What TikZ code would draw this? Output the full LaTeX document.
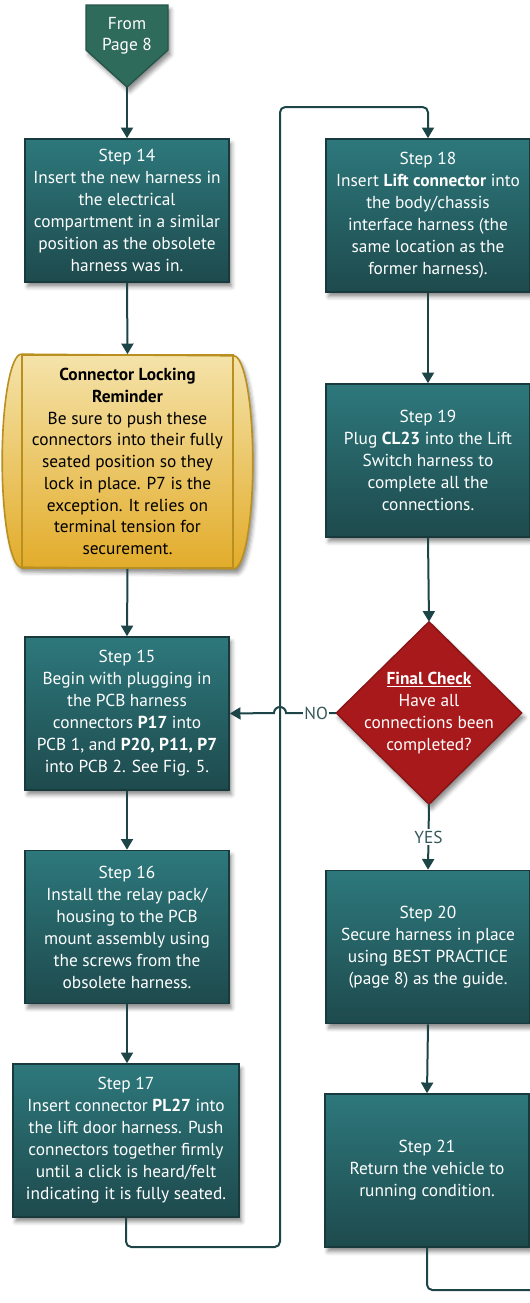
\documentclass[tikz,border=0pt]{standalone}
\usepackage{fontspec}
\setmainfont{PT Sans}
\usepackage{tikz}
\usetikzlibrary{arrows.meta,shadows.blur}
\definecolor{tealtop}{HTML}{2D787C}
\definecolor{tealbot}{HTML}{1E4A4D}
\definecolor{tealedge}{HTML}{193A3C}
\definecolor{linecol}{HTML}{1D4547}
\definecolor{goldtop}{HTML}{F5E3AA}
\definecolor{goldbot}{HTML}{E2AC2A}
\definecolor{goldedge}{HTML}{B98F1F}
\definecolor{checkred}{HTML}{A8191B}
\definecolor{checkedge}{HTML}{861315}
\definecolor{fromgreen}{HTML}{2F6B5A}
\definecolor{fromedge}{HTML}{24544A}
\definecolor{labelcol}{HTML}{35595B}
\pgfdeclarelayer{background}
\pgfsetlayers{background,main}
\tikzstyle{shade} = [blur shadow={shadow xshift=2pt, shadow yshift=-3.5pt, shadow blur radius=3pt, shadow opacity=45}]
\tikzstyle{block} = [rectangle, draw=tealedge, line width=1.2pt, top color=tealtop, bottom color=tealbot, text=white, align=center, minimum width=153pt, minimum height=114.75pt, inner sep=0pt, font=\fontsize{13}{16.5}\selectfont, shade]
\tikzstyle{reminder} = [rectangle, draw=goldedge, line width=1.2pt, text=black, align=center, minimum width=158.25pt, minimum height=159.75pt, inner sep=0pt, font=\fontsize{13}{16.3}\selectfont]
\tikzstyle{scroll} = [draw=goldedge, line width=1.2pt, top color=goldtop, bottom color=goldbot, shade]
\tikzstyle{check} = [rectangle, text=white, align=center, minimum width=138.75pt, minimum height=136.5pt, inner sep=0pt, font=\fontsize{13}{16.5}\selectfont]
\tikzstyle{from} = [text=white, align=center, inner sep=0pt, font=\fontsize{13}{15.75}\selectfont]
\tikzstyle{line} = [draw=linecol, line width=1.5pt, -{Triangle[length=8pt,width=9pt]}]
\tikzstyle{plain} = [draw=linecol, line width=1.5pt]
\tikzstyle{answer} = [fill=white, text=labelcol, inner sep=1pt, font=\fontsize{13}{15}\selectfont]

\begin{document}
\begin{tikzpicture}[x=0.75pt, y=-0.75pt]
    \useasboundingbox (0,0) rectangle (529,1303);

    % Nodes
    \coordinate (from_tip) at (127,87);
    \node [from] (from_page) at (127,36) {From\\Page 8};
    \node [block, minimum height=107.25pt] (step_14) at (127,210.5) {Step 14\\Insert the new harness in\\the electrical\\compartment in a similar\\position as the obsolete\\harness was in.};
    \node [reminder] (locking) at (127.5,461.5) {\textbf{Connector Locking}\\\textbf{Reminder}\\Be sure to push these\\connectors into their fully\\seated position so they\\lock in place. P7 is the\\exception. It relies on\\terminal tension for\\securement.};
    \node [block] (step_15) at (127,713.5) {Step 15\\Begin with plugging in\\the PCB harness\\connectors \textbf{P17} into\\PCB 1, and \textbf{P20, P11, P7}\\into PCB 2. See Fig. 5.};
    \node [block] (step_16) at (127,927) {Step 16\\Install the relay pack/\\housing to the PCB\\mount assembly using\\the screws from the\\obsolete harness.};
    \node [block, minimum width=169.5pt] (step_17) at (126,1140.5) {Step 17\\Insert connector \textbf{PL27} into\\the lift door harness. Push\\connectors together firmly\\until a click is heard/felt\\indicating it is fully seated.};
    \node [block] (step_18) at (428,215.5) {Step 18\\Insert \textbf{Lift connector} into\\the body/chassis\\interface harness (the\\same location as the\\former harness).};
    \node [block] (step_19) at (428,460.5) {Step 19\\Plug \textbf{CL23} into the Lift\\Switch harness to\\complete all the\\connections.};
    \node [check] (final_check) at (429,713) {\underline{\textbf{Final Check}}\\Have all\\connections been\\completed?};
    \node [block] (step_20) at (428,947) {Step 20\\Secure harness in place\\using BEST PRACTICE\\(page 8) as the guide.};
    \node [block] (step_21) at (427,1170.5) {Step 21\\Return the vehicle to\\running condition.};

    % shapes behind the text
    \begin{pgfonlayer}{background}
    \path [draw=fromedge, line width=1pt, fill=fromgreen, shade] (86,5) -- (168,5) -- (168,50) -- (from_tip) -- (86,50) -- cycle;
    \path [scroll] (locking.north west) arc[start angle=90, end angle=270, x radius=14.25pt, y radius=79.875pt] -- (locking.south east) arc[start angle=-90, end angle=90, x radius=14.25pt, y radius=79.875pt] -- cycle;
    \path [draw=checkedge, line width=1pt, fill=checkred, shade] (final_check.north) -- (final_check.east) -- (final_check.south) -- (final_check.west) -- cycle;
    \end{pgfonlayer}

    % free ends of the long lines
    \coordinate (loop_bottom) at (280,1247);
    \coordinate (loop_top) at (280,107);
    \coordinate (hop_right) at (286,713);
    \coordinate (exit_right) at (545,1290);

    % arrows
    \path [line] (from_tip) -- (step_14.north);
    \path [line] (step_14.south) -- (locking.north);
    \path [line] (locking.south) -- (step_15.north);
    \path [line] (step_15.south) -- (step_16.north);
    \path [line] (step_16.south) -- (step_16.south |- step_17.north);
    \path [line, rounded corners=4pt] (step_17.south) |- (loop_bottom) -- (loop_top) -| (step_18.north);
    \path [line] (step_18.south) -- (step_19.north);
    \path [line] (step_19.south) -- (final_check.north);
    \path [line] (final_check.west) -- node[answer, pos=0.4] {NO} (hop_right) arc[start angle=0, end angle=180, radius=4.5pt] -- (step_15.east);
    \path [line] (final_check.south) -- node[answer] {YES} (step_20.north);
    \path [line] (step_20.south) -- (step_21.north);
    \path [plain, rounded corners=4pt] (step_21.south) |- (exit_right);

\end{tikzpicture}
\end{document}
